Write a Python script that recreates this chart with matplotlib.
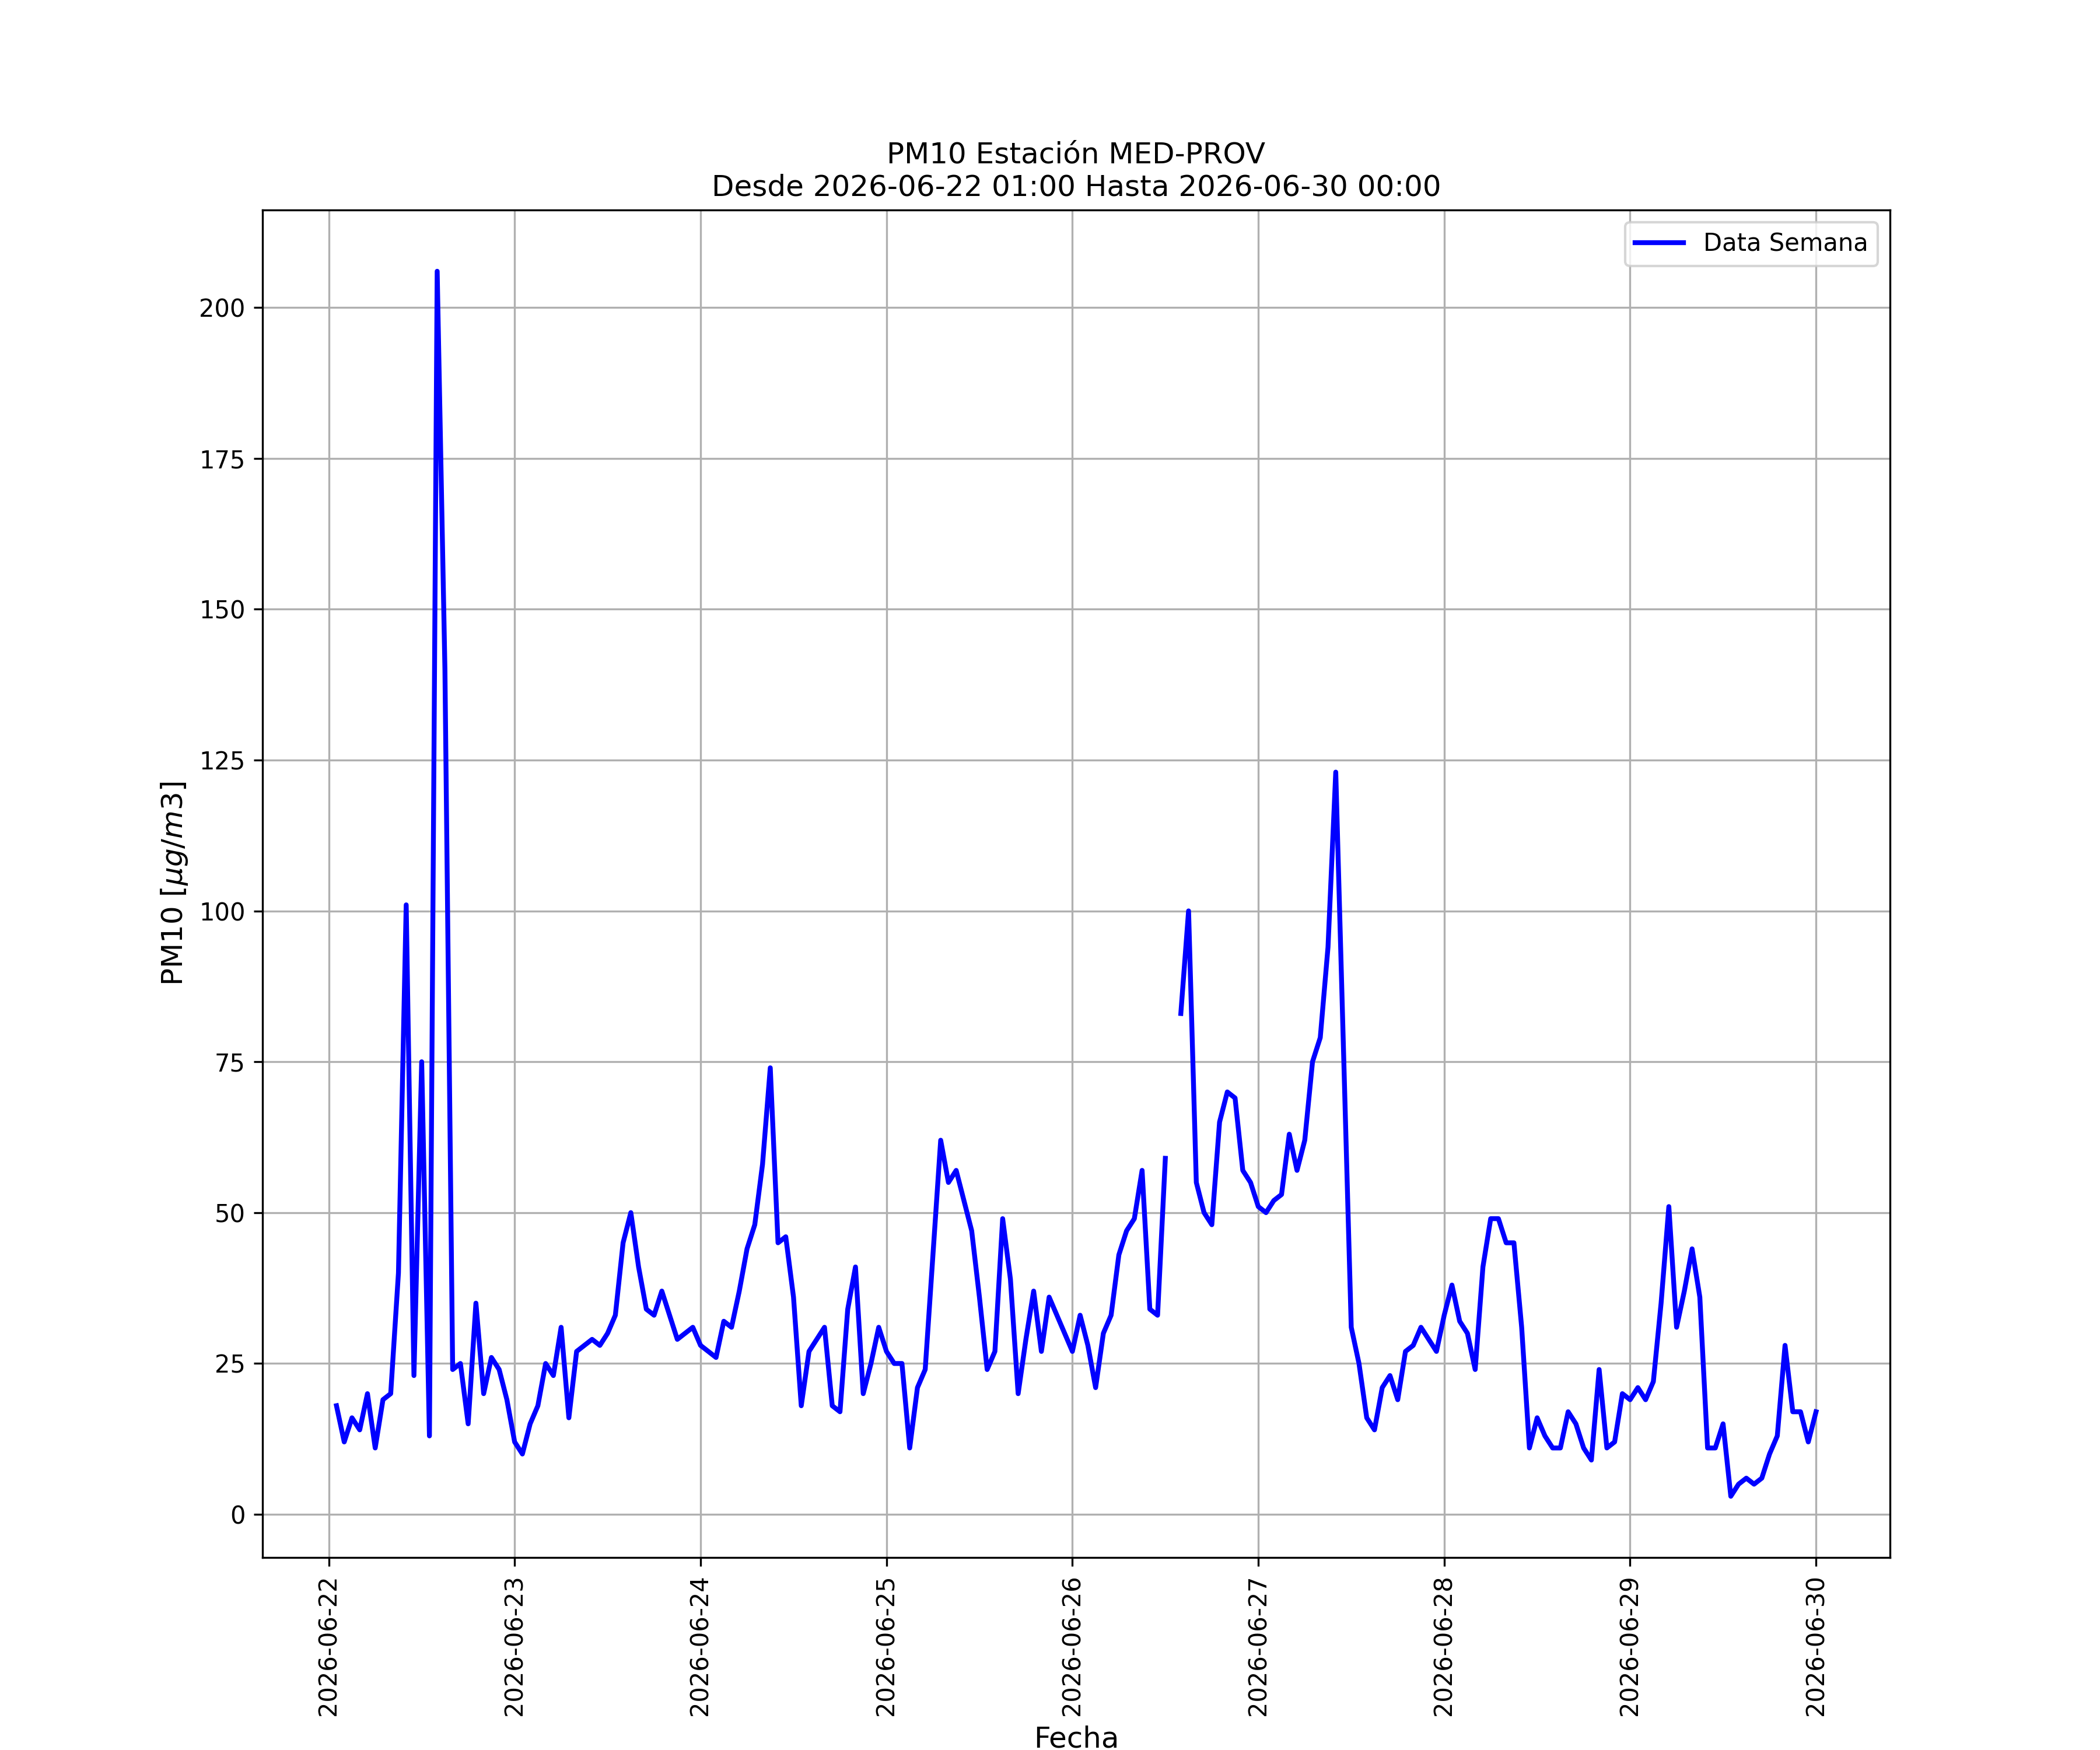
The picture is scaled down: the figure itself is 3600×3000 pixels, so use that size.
import numpy as np
import pandas as pd
import matplotlib
matplotlib.use("Agg")
import matplotlib.pyplot as plt
import matplotlib.dates as mdates

station = "MED-PROV"
start = "2026-06-22 01:00"
end = "2026-06-30 00:00"

# hourly PM10 values, one list per day
day_0622 = [18, 12, 16, 14, 20, 11, 19, 20, 40, 101, 23, 75, 13, 206, 140,
            24, 25, 15, 35, 20, 26, 24, 19]  # from 01:00
day_0623 = [12, 10, 15, 18, 25, 23, 31, 16, 27, 28, 29, 28, 30, 33, 45, 50,
            41, 34, 33, 37, 33, 29, 30, 31]
day_0624 = [28, 27, 26, 32, 31, 37, 44, 48, 58, 74, 45, 46, 36, 18, 27, 29,
            31, 18, 17, 34, 41, 20, 25, 31]
day_0625 = [27, 25, 25, 11, 21, 24, 43, 62, 55, 57, 52, 47, 36, 24, 27, 49,
            39, 20, 29, 37, 27, 36, 33, 30]
day_0626 = [27, 33, 28, 21, 30, 33, 43, 47, 49, 57, 34, 33, 59, np.nan, 83,
            100, 55, 50, 48, 65, 70, 69, 57, 55]
day_0627 = [51, 50, 52, 53, 63, 57, 62, 75, 79, 94, 123, 77, 31, 25, 16, 14,
            21, 23, 19, 27, 28, 31, 29, 27]
day_0628 = [33, 38, 32, 30, 24, 41, 49, 49, 45, 45, 31, 11, 16, 13, 11, 11,
            17, 15, 11, 9, 24, 11, 12, 20]
day_0629 = [19, 21, 19, 22, 35, 51, 31, 37, 44, 36, 11, 11, 15, 3, 5, 6,
            5, 6, 10, 13, 28, 17, 17, 12]
day_0630 = [17]  # 00:00


def main():
    pm10 = (day_0622 + day_0623 + day_0624 + day_0625 + day_0626
            + day_0627 + day_0628 + day_0629 + day_0630)
    fechas = pd.date_range(start, end, freq="h")
    df = pd.DataFrame({"fecha": fechas, "pm10": pm10})

    fig, ax = plt.subplots(figsize=(12, 10))
    ax.plot(df["fecha"], df["pm10"], color="blue", linewidth=2,
            label="Data Semana")

    ax.set_title(f"PM10 Estación {station}\nDesde {start} Hasta {end}",
                 fontsize=12)
    ax.set_xlabel("Fecha", fontsize=12)
    ax.set_ylabel("PM10 [$\\mu g/m3$]", fontsize=12)
    ax.xaxis.set_major_locator(mdates.DayLocator())
    ax.xaxis.set_major_formatter(mdates.DateFormatter("%Y-%m-%d"))
    plt.setp(ax.get_xticklabels(), rotation=90)
    ax.grid(True)
    ax.legend(loc="upper right")

    plt.savefig("out.png", dpi=300)


if __name__ == "__main__":
    main()
